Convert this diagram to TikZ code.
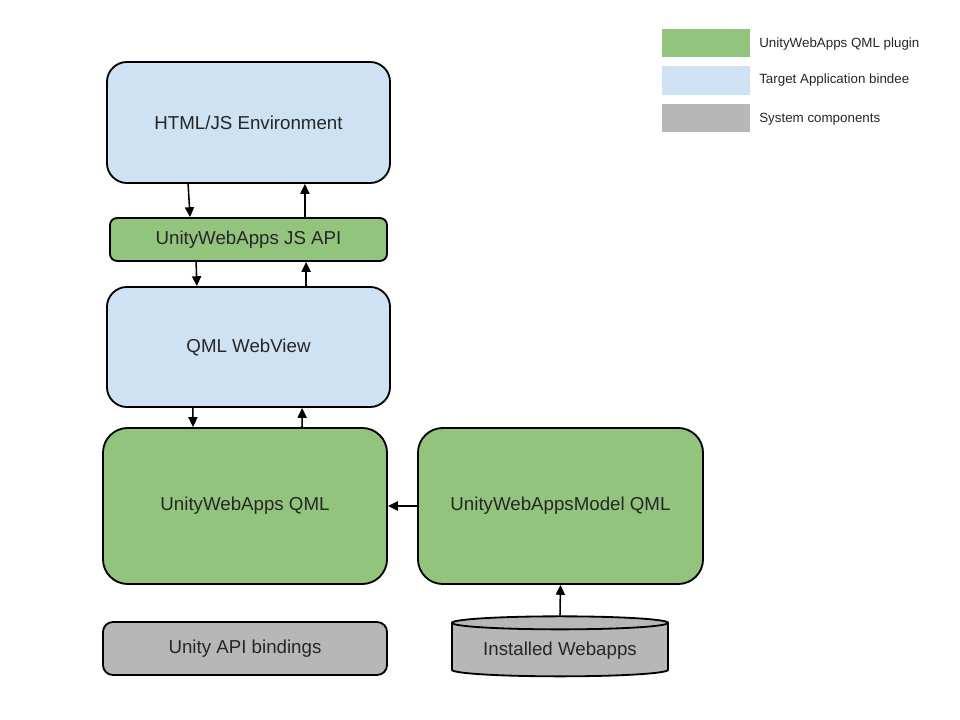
\documentclass[tikz,border=0pt]{standalone}
\usepackage{fontspec}
\setmainfont{Liberation Sans}
\usetikzlibrary{arrows.meta}
\usetikzlibrary{shapes.geometric}
\definecolor{VertPlugin}{HTML}{93C47D}
\definecolor{BleuCible}{HTML}{CFE2F3}
\definecolor{GrisSysteme}{HTML}{B7B7B7}
\tikzstyle{bloc}   =[draw, line width=1.3pt, text=black!85, font=\fontsize{13.3}{15}\selectfont]
\tikzstyle{fleche} =[-{Triangle[length=7pt,width=6.5pt]}, line width=1.1pt]
\tikzstyle{legende}=[minimum width=2.2cm, minimum height=0.7cm]
\tikzstyle{texteleg}=[anchor=west, text=black!85, font=\fontsize{9.5}{11}\selectfont]

\begin{document}
\begin{tikzpicture}[x=0.025cm,y=-0.025cm]
 \useasboundingbox (0,0) rectangle (960,720);
 % blocs
 \node[bloc, fill=BleuCible, minimum width=7.075cm, minimum height=3.025cm, rounded corners=0.5cm] (html) at (248.5,122.5) {HTML/JS Environment};
 \node[bloc, fill=VertPlugin, minimum width=6.925cm, minimum height=1.075cm, rounded corners=0.18cm] (jsapi) at (248.5,239.5) {UnityWebApps JS API};
 \node[bloc, fill=BleuCible, minimum width=7.075cm, minimum height=3cm, rounded corners=0.5cm] (webview) at (248.5,347) {QML WebView};
 \node[bloc, fill=VertPlugin, minimum width=7.1cm, minimum height=3.9cm, rounded corners=0.62cm] (qml) at (245,506) {UnityWebApps QML};
 \node[bloc, fill=VertPlugin, minimum width=7.125cm, minimum height=3.9cm, rounded corners=0.62cm] (model) at (560.5,506) {UnityWebAppsModel QML};
 \node[bloc, fill=GrisSysteme, minimum width=7.1cm, minimum height=1.325cm, rounded corners=0.25cm] (bindings) at (245,648.5) {Unity API bindings};
 \node[bloc, fill=GrisSysteme, cylinder, shape border rotate=90, aspect=0.08, minimum width=5.4cm, minimum height=1.5cm] (webapps) at (560,651) {Installed Webapps};
 % fleches
 \draw[fleche] ([xshift=-1.51cm]html.south) -- ([xshift=-1.46cm]jsapi.north);
 \draw[fleche] ([xshift=1.41cm]jsapi.north) -- ([xshift=1.41cm]html.south);
 \draw[fleche] ([xshift=-1.31cm]jsapi.south) -- ([xshift=-1.29cm]webview.north);
 \draw[fleche] ([xshift=1.44cm]webview.north) -- ([xshift=1.44cm]jsapi.south);
 \draw[fleche] ([xshift=-1.39cm]webview.south) -- ([xshift=-1.3cm]qml.north);
 \draw[fleche] ([xshift=1.425cm]qml.north) -- ([xshift=1.34cm]webview.south);
 \draw[fleche] (model.west) -- (qml.east);
 \draw[fleche] (webapps.north) -- (model.south);
 % legende
 \node[legende, fill=VertPlugin] (legvert) at (706,43) {};
 \node[legende, fill=BleuCible, minimum height=0.725cm] (legbleu) at (706,80.5) {};
 \node[legende, fill=GrisSysteme] (leggris) at (706,118) {};
 \node[texteleg] (txtvert) at ([xshift=0.1cm,yshift=-0.02cm]legvert.east) {UnityWebApps QML plugin};
 \node[texteleg] (txtbleu) at ([xshift=0.1cm,yshift=0cm]legbleu.east) {Target Application bindee};
 \node[texteleg] (txtgris) at ([xshift=0.1cm,yshift=-0.02cm]leggris.east) {System components};
\end{tikzpicture}
\end{document}
